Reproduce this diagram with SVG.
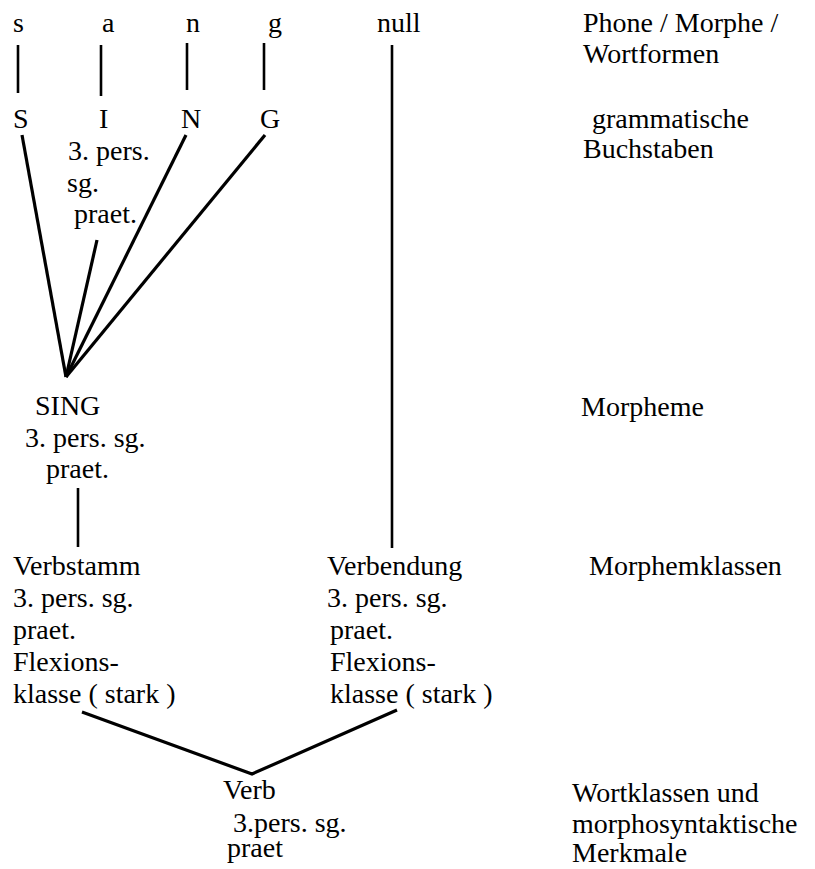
<svg xmlns="http://www.w3.org/2000/svg" width="815" height="869" viewBox="0 0 815 869">
  <style>
    text { font-family: "Liberation Serif", "Times New Roman", serif; font-size: 28px; fill: #000; }
    .edge { stroke: #000; stroke-width: 2.6; fill: none; stroke-linecap: butt; }
    .diag { stroke-width: 3.2; }
  </style>
  <rect width="815" height="869" fill="#fff"/>

  <!-- connectors -->
  <g id="connectors">
    <line class="edge" x1="18" y1="45" x2="18" y2="93"/>
    <line class="edge" x1="101" y1="45" x2="101" y2="96"/>
    <line class="edge" x1="187" y1="43" x2="187" y2="90"/>
    <line class="edge" x1="264" y1="43" x2="264" y2="90"/>
    <line class="edge" x1="392" y1="45" x2="392" y2="548"/>
    <line class="edge diag" x1="22" y1="135" x2="66" y2="377"/>
    <line class="edge diag" x1="97" y1="240" x2="66" y2="377"/>
    <line class="edge diag" x1="186" y1="135" x2="66" y2="377"/>
    <line class="edge diag" x1="265" y1="135" x2="66" y2="377"/>
    <line class="edge" x1="78" y1="488" x2="78" y2="547"/>
    <polyline class="edge diag" points="82,712 252,774 397,710"/>
  </g>

  <!-- phones / morphs -->
  <g id="phones">
    <text x="13" y="32">s</text>
    <text x="102" y="32">a</text>
    <text x="186" y="32">n</text>
    <text x="268" y="32">g</text>
    <text x="377" y="32">null</text>
  </g>

  <!-- grammatical letters -->
  <g id="letters">
    <text x="13" y="128">S</text>
    <text x="99" y="128">I</text>
    <text x="181" y="128">N</text>
    <text x="260" y="128">G</text>
  </g>

  <g id="i-features">
    <text x="68" y="160">3. pers.</text>
    <text x="67" y="192">sg.</text>
    <text x="74" y="223">praet.</text>
  </g>

  <g id="morpheme-sing">
    <text x="35" y="415">SING</text>
    <text x="25" y="447">3. pers. sg.</text>
    <text x="46" y="478">praet.</text>
  </g>

  <g id="verbstamm">
    <text x="13" y="575">Verbstamm</text>
    <text x="13" y="607">3. pers. sg.</text>
    <text x="13" y="639">praet.</text>
    <text x="13" y="671">Flexions-</text>
    <text x="13" y="703">klasse ( stark )</text>
  </g>

  <g id="verbendung">
    <text x="327" y="575">Verbendung</text>
    <text x="327" y="607">3. pers. sg.</text>
    <text x="330" y="639">praet.</text>
    <text x="330" y="671">Flexions-</text>
    <text x="330" y="703">klasse ( stark )</text>
  </g>

  <g id="verb">
    <text x="223" y="799">Verb</text>
    <text x="233" y="832">3.pers. sg.</text>
    <text x="227" y="857">praet</text>
  </g>

  <!-- level labels -->
  <g id="levels">
    <text x="583" y="32">Phone / Morphe /</text>
    <text x="583" y="63">Wortformen</text>
    <text x="592" y="128">grammatische</text>
    <text x="583" y="158">Buchstaben</text>
    <text x="581" y="416">Morpheme</text>
    <text x="589" y="575">Morphemklassen</text>
    <text x="572" y="802">Wortklassen und</text>
    <text x="572" y="833">morphosyntaktische</text>
    <text x="572" y="862">Merkmale</text>
  </g>
</svg>
